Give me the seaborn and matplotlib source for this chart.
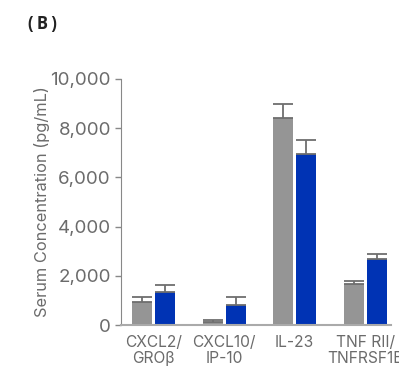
import numpy as np
import pandas as pd
import matplotlib
matplotlib.use('Agg')
import matplotlib.pyplot as plt
import seaborn as sns

# data
analytes = ['CXCL2/\nGROβ', 'CXCL10/\nIP-10', 'IL-23', 'TNF RII/\nTNFRSF1B']
groups = ['Control', 'Treated']
control_mean = [930, 120, 8430, 1660]
control_err = [200, 80, 570, 150]
treated_mean = [1340, 810, 6940, 2680]
treated_err = [300, 330, 580, 210]
yticks = [0, 2000, 4000, 6000, 8000, 10000]

sns.set_style('white')
plt.rcParams['font.family'] = ['Inter', 'DejaVu Sans']

df = pd.DataFrame({
    'analyte': analytes * 2,
    'group': [groups[0]] * 4 + [groups[1]] * 4,
    'value': control_mean + treated_mean,
    'err': control_err + treated_err,
})

fig = plt.figure(figsize=(3.99, 3.69), dpi=100)
ax = fig.add_axes([0.3025, 0.119, 0.678, 0.667])

sns.barplot(data=df, x='analyte', y='value', hue='group', order=analytes,
            hue_order=groups, palette=['#959595', '#0033b4'], width=0.652,
            gap=0.13, errorbar=None, legend=False, saturation=1,
            linewidth=0, ax=ax)

# one-sided error bars on top of each bar
for (i, row), patch in zip(df.iterrows(), ax.patches):
    xc = patch.get_x() + patch.get_width() / 2
    ax.errorbar(xc, row['value'], yerr=[[0], [row['err']]], fmt='none',
                ecolor='#6e6e6e', elinewidth=1.3, capsize=7, capthick=1.3)

grey = '#6b6b6b'
ax.set_ylim(0, 10000)
ax.set_xlim(-0.465, 3.37)
ax.set_yticks(yticks)
ax.set_yticklabels([f'{t:,}' for t in yticks], fontsize=13.5, color=grey)
ax.tick_params(axis='x', labelsize=11.2, colors=grey, length=0, pad=7)
ax.tick_params(axis='y', length=4, width=1, color='#888888', pad=3, left=True)
for lab in ax.get_xticklabels():
    lab.set_linespacing(1.1)
ax.set_xlabel('')
ax.set_ylabel('Serum Concentration (pg/mL)', fontsize=11.8, color=grey, labelpad=0)
sns.despine(ax=ax)
ax.spines['left'].set_color('#888888')
ax.spines['bottom'].set_color('#aaaaaa')
ax.spines['bottom'].set_linewidth(1.5)

fig.text(0.07, 0.934, '(\u2009B\u2009)', fontsize=12, fontweight='bold',
         color='#222222', va='center', family=['Open Sans', 'DejaVu Sans'])

fig.savefig('out.png', dpi=100)
